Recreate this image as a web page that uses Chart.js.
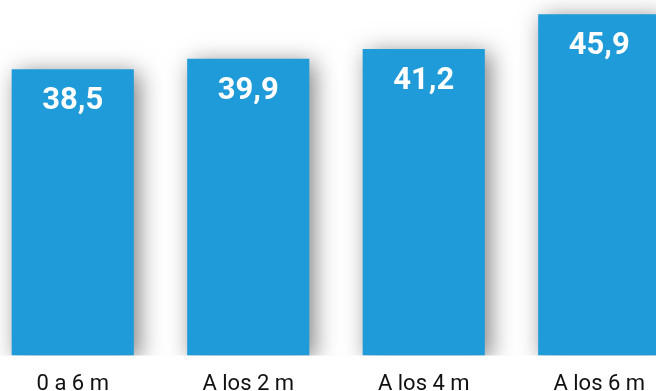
<!DOCTYPE html>
<html>
<head>
<meta charset="utf-8">
<script src="https://cdn.jsdelivr.net/npm/chart.js@4"></script>
<style>
  html, body { margin: 0; padding: 0; background: #fff; overflow: hidden; width: 656px; height: 391px; }
  #wrap { position: absolute; left: -14.6px; top: 0; width: 702px; height: 406px; }
</style>
</head>
<body>
<div id="wrap"><canvas id="chart" width="702" height="406"></canvas></div>
<script>
// edades de medición y valores
const categories = ['0 a 6 m', 'A los 2 m', 'A los 4 m', 'A los 6 m'];
const values = [38.5, 39.9, 41.2, 45.9];
const valueLabels = ['38,5', '39,9', '41,2', '45,9'];

// bar shadow + white value labels inside the top of each bar
const barDecor = {
  id: 'barDecor',
  beforeDatasetsDraw(chart) {
    const ctx = chart.ctx;
    ctx.save();
    ctx.shadowColor = 'rgba(0,0,0,0.5)';
    ctx.shadowBlur = 22;
    ctx.shadowOffsetX = 5;
    ctx.shadowOffsetY = 4;
  },
  afterDatasetsDraw(chart) {
    const ctx = chart.ctx;
    ctx.restore();
    ctx.save();
    ctx.fillStyle = '#ffffff';
    ctx.font = 'bold 31px Roboto';
    ctx.textAlign = 'center';
    ctx.textBaseline = 'middle';
    chart.getDatasetMeta(0).data.forEach((bar, i) => {
      ctx.fillText(valueLabels[i], bar.x, bar.y + 32);
    });
    ctx.restore();
  }
};

new Chart(document.getElementById('chart'), {
  type: 'bar',
  data: {
    labels: categories,
    datasets: [{ data: values, backgroundColor: '#1e9bd8', borderWidth: 0, categoryPercentage: 1, barPercentage: 0.696 }]
  },
  options: {
    responsive: false,
    animation: false,
    layout: { padding: 0 },
    plugins: { legend: { display: false }, tooltip: { enabled: false } },
    scales: {
      x: {
        grid: { display: false },
        border: { display: false },
        ticks: { color: '#111', padding: 8, font: { family: 'Roboto', size: 22 } }
      },
      y: { display: false, min: 0, max: 47.8 }
    }
  },
  plugins: [barDecor]
});
</script>
</body>
</html>
